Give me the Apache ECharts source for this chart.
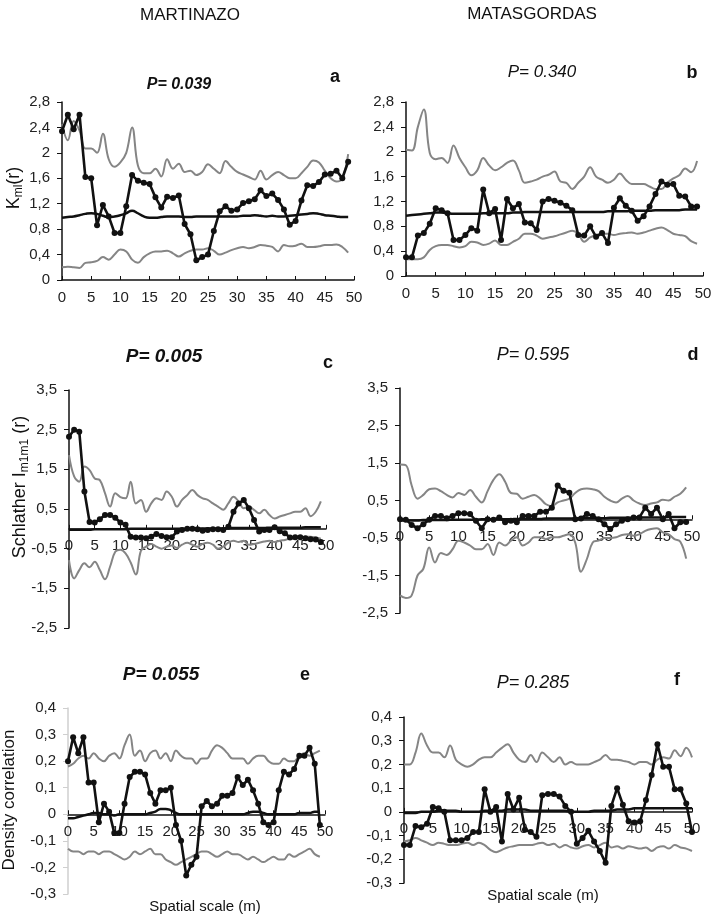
<!DOCTYPE html>
<html>
<head>
<meta charset="utf-8">
<script src="https://cdn.jsdelivr.net/npm/echarts@6/dist/echarts.min.js"></script>
<style>
  html, body { margin: 0; padding: 0; background: #fff; }
  #chart { width: 715px; height: 916px; }
</style>
</head>
<body>
<div id="chart"></div>
<script>
// x = spatial scale (m), one value per metre starting at 0
const obsA = [2.34,2.6,2.37,2.6,1.62,1.6,0.86,1.18,1.0,0.74,0.74,1.16,1.65,1.56,1.53,1.51,1.3,1.14,1.31,1.29,1.33,0.88,0.72,0.31,0.36,0.4,0.77,1.08,1.16,1.09,1.11,1.21,1.24,1.27,1.41,1.32,1.36,1.26,1.11,0.87,0.93,1.25,1.49,1.48,1.54,1.66,1.67,1.72,1.6,1.86];
const upA = [2.45,2.2,2.5,2.35,2.07,2.07,2.0,2.3,1.9,1.78,1.85,2.0,2.4,1.8,1.68,1.68,1.75,1.63,1.9,1.75,1.83,1.7,1.72,1.65,1.7,1.82,1.75,1.68,1.87,1.78,1.7,1.66,1.62,1.58,1.72,1.58,1.65,1.7,1.65,1.6,1.6,1.68,1.78,1.88,1.85,1.72,1.6,1.55,1.6,1.98];
const loA = [0.2,0.21,0.2,0.19,0.27,0.28,0.3,0.36,0.32,0.4,0.48,0.45,0.32,0.27,0.36,0.42,0.45,0.45,0.46,0.42,0.37,0.42,0.46,0.48,0.48,0.5,0.46,0.4,0.43,0.47,0.5,0.52,0.5,0.52,0.55,0.54,0.52,0.45,0.55,0.53,0.54,0.57,0.52,0.52,0.53,0.55,0.55,0.56,0.52,0.43];
const meanA = [0.98,0.99,1.0,1.02,1.04,1.05,1.04,1.01,0.99,1.0,1.02,1.05,1.09,1.05,1.0,0.98,0.98,0.99,1.0,1.0,1.0,0.99,0.99,1.0,1.0,1.0,1.0,1.0,1.0,1.0,1.0,1.01,1.01,1.02,1.01,1.0,1.01,1.0,1.0,1.01,1.02,1.03,1.04,1.05,1.04,1.02,1.01,1.0,0.99,0.99];

const obsB = [0.3,0.3,0.65,0.69,0.84,1.09,1.06,1.01,0.58,0.58,0.66,0.77,0.73,1.39,1.01,1.08,0.58,1.24,1.09,1.16,0.86,0.85,0.74,1.2,1.24,1.21,1.18,1.13,1.06,0.66,0.65,0.8,0.63,0.69,0.53,1.1,1.25,1.13,1.05,0.89,0.96,1.12,1.32,1.52,1.47,1.48,1.29,1.28,1.12,1.12];
const upB = [2.03,2.02,2.4,2.68,1.98,1.88,1.9,1.82,2.1,1.9,1.75,1.62,1.7,1.9,1.78,1.7,1.75,1.82,1.86,1.7,1.5,1.52,1.55,1.6,1.63,1.68,1.52,1.5,1.4,1.5,1.6,1.75,1.6,1.55,1.5,1.55,1.65,1.55,1.48,1.48,1.48,1.44,1.4,1.4,1.5,1.57,1.62,1.73,1.67,1.85];
const loB = [0.27,0.27,0.27,0.3,0.42,0.48,0.5,0.5,0.48,0.46,0.48,0.55,0.54,0.5,0.52,0.57,0.5,0.5,0.55,0.6,0.68,0.68,0.65,0.6,0.62,0.64,0.67,0.7,0.73,0.68,0.55,0.62,0.66,0.68,0.68,0.66,0.68,0.69,0.7,0.68,0.7,0.73,0.76,0.78,0.74,0.68,0.66,0.64,0.56,0.52];
const meanB = [0.97,0.98,0.99,1.0,1.01,1.02,1.02,1.01,1.0,1.0,1.0,1.0,1.0,1.01,1.01,1.01,1.01,1.01,1.02,1.02,1.03,1.03,1.03,1.03,1.03,1.03,1.03,1.03,1.03,1.03,1.03,1.03,1.03,1.03,1.04,1.04,1.04,1.04,1.05,1.05,1.05,1.05,1.06,1.06,1.06,1.06,1.06,1.07,1.07,1.07];

const obsC = [2.32,2.5,2.45,0.94,0.17,0.16,0.24,0.35,0.35,0.28,0.16,0.1,-0.2,-0.22,-0.22,-0.24,-0.2,-0.13,-0.18,-0.21,-0.21,-0.07,-0.03,0,0,-0.01,-0.05,-0.03,-0.01,-0.01,-0.03,0.05,0.43,0.64,0.73,0.52,0.22,-0.07,-0.03,-0.03,0.04,-0.06,-0.11,-0.22,-0.21,-0.21,-0.24,-0.26,-0.27,-0.33];
const upC = [1.86,1.32,1.19,1.57,1.48,1.27,1.23,0.9,0.56,0.9,0.8,0.77,1.19,0.64,0.73,0.43,0.64,0.77,0.73,0.94,0.81,0.56,0.73,0.85,0.98,0.85,0.77,0.73,0.64,0.56,0.48,0.64,0.81,0.69,0.52,0.56,0.48,0.39,0.48,0.35,0.26,0.31,0.35,0.39,0.43,0.43,0.52,0.32,0.43,0.69];
const loC = [-0.79,-1.25,-1.04,-0.87,-0.97,-0.83,-1.04,-1.27,-0.95,-0.58,-0.53,-0.62,-0.85,-1.15,-0.55,-0.45,-0.38,-0.45,-0.5,-0.45,-0.42,-0.48,-0.4,-0.35,-0.4,-0.45,-0.38,-0.35,-0.4,-0.5,-0.45,-0.35,-0.3,-0.33,-0.3,-0.4,-0.38,-0.35,-0.32,-0.3,-0.33,-0.3,-0.28,-0.25,-0.25,-0.22,-0.2,-0.2,-0.22,-0.25];
const meanC = [-0.02,-0.02,-0.02,-0.02,-0.02,-0.01,-0.01,-0.01,-0.01,-0.01,-0.01,-0.01,0,0,0,0,0,0,0,0,0,0,0,0.01,0.01,0.01,0.01,0.01,0.01,0.01,0.01,0.02,0.02,0.02,0.02,0.02,0.02,0.02,0.02,0.03,0.03,0.03,0.03,0.03,0.03,0.03,0.04,0.04,0.04,0.04];

const obsD = [0,-0.01,-0.15,-0.24,-0.13,-0.01,0.09,0.09,0.03,0.09,0.16,0.16,0.14,-0.04,-0.24,0,-0.01,0.05,-0.08,-0.04,-0.08,0.09,0.09,0.09,0.2,0.2,0.31,0.9,0.76,0.71,0,0.02,0.14,0.09,0,-0.13,-0.26,-0.13,-0.04,0,0.05,0.05,0.31,0.14,0.31,0,0.14,-0.24,-0.08,-0.07];
const upD = [1.46,1.44,0.9,0.55,0.65,0.8,0.82,0.75,0.65,0.58,0.7,0.65,0.78,0.6,0.45,0.75,1.05,1.2,1.0,0.7,0.68,0.55,0.6,0.65,0.55,0.4,0.35,0.45,0.5,0.55,0.7,0.8,0.82,0.8,0.75,0.6,0.5,0.45,0.55,0.62,0.5,0.42,0.38,0.42,0.45,0.52,0.5,0.6,0.68,0.85];
const loD = [-2.03,-2.1,-2.03,-1.5,-1.32,-0.75,-1.15,-0.9,-0.95,-0.8,-0.57,-0.62,-0.7,-0.8,-0.8,-0.66,-0.95,-0.62,-0.7,-0.57,-0.48,-0.7,-0.62,-0.48,-0.48,-0.53,-0.48,-0.48,-0.44,-0.4,-0.62,-1.4,-1.06,-0.62,-0.57,-0.5,-0.5,-0.48,-0.42,-0.4,-0.44,-0.4,-0.31,-0.26,-0.24,-0.35,-0.4,-0.53,-0.6,-1.05];
const meanD = [-0.03,-0.03,-0.03,-0.03,-0.02,-0.02,-0.02,-0.02,-0.02,-0.01,-0.01,-0.01,-0.01,-0.01,0,0,0,0,0,0,0.01,0.01,0.01,0.01,0.01,0.02,0.02,0.02,0.02,0.02,0.02,0.03,0.03,0.03,0.03,0.03,0.04,0.04,0.04,0.04,0.04,0.05,0.05,0.05,0.05,0.05,0.06,0.06,0.06,0.06];

const obsE = [0.2,0.29,0.23,0.29,0.12,0.12,-0.03,0.04,0.01,-0.07,-0.07,0.04,0.14,0.16,0.16,0.15,0.08,0.04,0.09,0.09,0.1,-0.04,-0.1,-0.23,-0.19,-0.16,0.03,0.05,0.03,0.04,0.07,0.07,0.08,0.14,0.11,0.13,0.09,0.04,-0.03,-0.04,-0.03,0.09,0.16,0.15,0.17,0.22,0.22,0.25,0.19,-0.04];
const upE = [0.18,0.19,0.21,0.22,0.21,0.23,0.21,0.2,0.22,0.23,0.21,0.26,0.3,0.22,0.24,0.2,0.23,0.24,0.21,0.23,0.2,0.24,0.22,0.21,0.21,0.19,0.21,0.21,0.24,0.26,0.25,0.23,0.21,0.21,0.21,0.19,0.21,0.22,0.22,0.2,0.19,0.19,0.21,0.2,0.2,0.22,0.23,0.22,0.23,0.24];
const loE = [-0.13,-0.14,-0.14,-0.15,-0.14,-0.14,-0.15,-0.14,-0.14,-0.15,-0.16,-0.17,-0.16,-0.14,-0.15,-0.14,-0.13,-0.15,-0.15,-0.17,-0.18,-0.19,-0.18,-0.17,-0.16,-0.15,-0.14,-0.14,-0.15,-0.16,-0.15,-0.14,-0.15,-0.15,-0.16,-0.17,-0.16,-0.17,-0.18,-0.17,-0.16,-0.17,-0.17,-0.15,-0.16,-0.15,-0.14,-0.13,-0.15,-0.16];
const meanE = [-0.015,-0.015,-0.01,-0.005,0,0.005,0.005,0,0,-0.005,0,0,0,0,0,0,0.005,0.01,0.02,0.02,0.015,0.005,0,0,0,0,0,0,0,0,0,0,0,0,0,0.005,0.01,0.01,0.005,0,0,0,0,0,0,0.005,0.005,0.005,0.01,0.01];

const obsF = [-0.14,-0.14,-0.06,-0.065,-0.05,0.02,0.015,0.0,-0.12,-0.12,-0.12,-0.11,-0.085,-0.085,0.095,0.0,0.02,-0.125,0.075,0.01,0.06,-0.075,-0.085,-0.105,0.07,0.075,0.075,0.065,0.025,0.0,-0.135,-0.11,-0.08,-0.125,-0.165,-0.215,0.025,0.1,0.03,-0.04,-0.045,-0.04,0.05,0.155,0.285,0.19,0.19,0.095,0.095,0.035,-0.085];
const upF = [0.2,0.2,0.25,0.33,0.28,0.25,0.25,0.23,0.28,0.22,0.2,0.19,0.2,0.22,0.23,0.23,0.25,0.27,0.285,0.25,0.22,0.21,0.24,0.21,0.25,0.23,0.21,0.23,0.2,0.21,0.2,0.2,0.2,0.21,0.22,0.24,0.22,0.22,0.215,0.21,0.2,0.21,0.21,0.2,0.22,0.23,0.225,0.26,0.235,0.27,0.23];
const loF = [-0.125,-0.12,-0.11,-0.12,-0.13,-0.14,-0.13,-0.135,-0.14,-0.14,-0.135,-0.13,-0.14,-0.13,-0.14,-0.16,-0.17,-0.16,-0.15,-0.145,-0.14,-0.14,-0.14,-0.135,-0.13,-0.14,-0.135,-0.15,-0.14,-0.15,-0.155,-0.145,-0.14,-0.15,-0.14,-0.13,-0.15,-0.145,-0.155,-0.145,-0.15,-0.155,-0.15,-0.165,-0.15,-0.145,-0.155,-0.14,-0.15,-0.155,-0.165];
const meanF = [-0.005,-0.005,-0.005,0,0,0,0.005,0.005,0.005,0.005,0,0,0,0,0.005,0.005,0.005,0.005,0.01,0.01,0.01,0.01,0.005,0.005,0.005,0.005,0.005,0.005,0.005,0,0,0,0,0.005,0.005,0.005,0.005,0.01,0.01,0.01,0.015,0.015,0.015,0.015,0.015,0.015,0.015,0.015,0.015,0.015,0.015];

// y axis ranges per panel: [min, max, interval]
const yRanges = [[0, 2.8, 0.4], [0, 2.8, 0.4], [-2.5, 3.5, 1], [-2.5, 3.5, 1], [-0.3, 0.4, 0.1], [-0.3, 0.4, 0.1]];
const panels = [
  { obs: obsA, up: upA, lo: loA, mean: meanA },
  { obs: obsB, up: upB, lo: loB, mean: meanB },
  { obs: obsC, up: upC, lo: loC, mean: meanC },
  { obs: obsD, up: upD, lo: loD, mean: meanD },
  { obs: obsE, up: upE, lo: loE, mean: meanE },
  { obs: obsF, up: upF, lo: loF, mean: meanF },
];
const grids = [
  { left: 62, top: 102, width: 292, height: 178 },
  { left: 406, top: 102, width: 297, height: 174 },
  { left: 69, top: 390, width: 257, height: 238 },
  { left: 400, top: 388, width: 292, height: 225 },
  { left: 68, top: 708, width: 257, height: 186 },
  { left: 404, top: 717, width: 288, height: 166 },
];

const FONT = "'Liberation Sans', Arial, sans-serif";
const fmt = (v) => String(+v.toFixed(1)).replace(".", ",");
const pts = (arr) => arr.map((v, i) => [i, v]);

// the x axis (line, ticks and labels) sits on y = 0: shift it up from the grid bottom
const xAxis = grids.map((g, i) => {
  const [mn, mx] = yRanges[i];
  const lift = g.height * (0 - mn) / (mx - mn);
  return {
    type: "value",
    gridIndex: i,
    min: 0,
    max: 50,
    interval: 5,
    offset: -lift,
    axisLine: { onZero: false, lineStyle: { color: "#111", width: 1.5 } },
    axisTick: { show: true, inside: true, length: 4, lineStyle: { color: "#111" } },
    axisLabel: { color: "#222", fontSize: 15, fontFamily: FONT, margin: 10 },
    splitLine: { show: false },
  };
});
const yAxis = grids.map((g, i) => {
  const faint = i === 4;
  return {
    type: "value",
    gridIndex: i,
    min: yRanges[i][0],
    max: yRanges[i][1],
    interval: yRanges[i][2],
    axisLine: { show: true, lineStyle: { color: faint ? "#cfcfcf" : "#111", width: 1.5 } },
    axisTick: { show: true, length: 5, lineStyle: { color: faint ? "#cfcfcf" : "#111" } },
    axisLabel: { color: "#222", fontSize: 15, fontFamily: FONT, margin: 12, formatter: fmt },
    splitLine: { show: false },
  };
});

const series = [];
panels.forEach((p, i) => {
  const base = { type: "line", xAxisIndex: i, yAxisIndex: i, animation: false };
  series.push({ ...base, data: pts(p.up), smooth: 0.4, showSymbol: false, lineStyle: { color: "#858585", width: 2 } });
  series.push({ ...base, data: pts(p.lo), smooth: 0.4, showSymbol: false, lineStyle: { color: "#858585", width: 2 } });
  series.push({ ...base, data: pts(p.mean), smooth: 0.5, showSymbol: false, lineStyle: { color: "#111", width: 2.5 } });
  series.push({
    ...base,
    data: pts(p.obs),
    symbol: "circle",
    symbolSize: 6,
    itemStyle: { color: "#111" },
    lineStyle: { color: "#111", width: 2.6 },
    z: 5,
  });
});

function txt(text, x, y, font, extra) {
  return {
    type: "text",
    x: x,
    y: y,
    style: Object.assign({
      text: text,
      font: font,
      fill: "#111",
      align: "center",
      verticalAlign: "middle",
      textAlign: "center",
      textVerticalAlign: "middle",
    }, extra || {}),
  };
}

const graphic = [
  txt("MARTINAZO", 190, 15, "17px " + FONT),
  txt("MATASGORDAS", 532, 14, "17px " + FONT),
  txt("P= 0.039", 179, 85, "italic bold 16px " + FONT),
  txt("P= 0.340", 542, 72, "italic 17px " + FONT),
  txt("P= 0.005", 164, 357, "italic bold 19px " + FONT),
  txt("P= 0.595", 533, 355, "italic 18px " + FONT),
  txt("P= 0.055", 161, 675, "italic bold 19px " + FONT),
  txt("P= 0.285", 533, 683, "italic 18px " + FONT),
  txt("a", 335, 77, "bold 18px " + FONT),
  txt("b", 692, 73, "bold 18px " + FONT),
  txt("c", 328, 363, "bold 18px " + FONT),
  txt("d", 693, 355, "bold 18px " + FONT),
  txt("e", 305, 675, "bold 18px " + FONT),
  txt("f", 677, 680, "bold 18px " + FONT),
  txt("Spatial scale (m)", 205, 907, "15px " + FONT),
  txt("Spatial scale (m)", 543, 896, "15px " + FONT),
  Object.assign(txt("Density correlation", 9, 800, "17px " + FONT), { rotation: Math.PI / 2 }),
  Object.assign(txt("K{s|ml}(r)", 14, 188, "18px " + FONT, {
    rich: { s: { fontSize: 12, fontFamily: FONT, fill: "#111", padding: [10, 0, 0, 0] } },
  }), { rotation: Math.PI / 2 }),
  Object.assign(txt("Schlather I{s|m1m1} (r)", 20, 487, "18px " + FONT, {
    rich: { s: { fontSize: 12, fontFamily: FONT, fill: "#111", padding: [10, 0, 0, 0] } },
  }), { rotation: Math.PI / 2 }),
];

const chart = echarts.init(document.getElementById("chart"), null, { renderer: "canvas" });
chart.setOption({
  backgroundColor: "#fff",
  animation: false,
  grid: grids.map((g) => ({ ...g, outerBoundsMode: "none" })),
  xAxis: xAxis,
  yAxis: yAxis,
  series: series,
  graphic: graphic,
});
</script>
</body>
</html>
